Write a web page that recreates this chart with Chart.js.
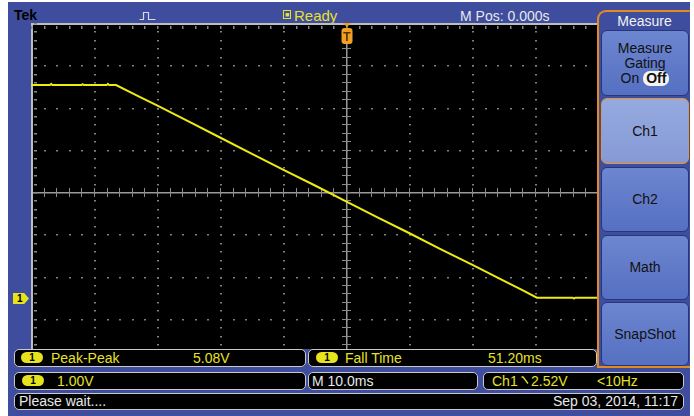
<!DOCTYPE html>
<html>
<head>
<meta charset="utf-8">
<script src="https://cdn.jsdelivr.net/npm/chart.js@4.4.1/dist/chart.umd.min.js"></script>
<style>
  html, body { margin: 0; padding: 0; background: #fff; }
  body { width: 694px; height: 416px; position: relative; overflow: hidden;
         font-family: "Liberation Sans", Arial, sans-serif; }
  .abs { position: absolute; }
  #frame { left: 8px; top: 2px; width: 682px; height: 414px; background: #3f4d9f; }
  #scope { left: 31px; top: 23px; width: 566px; height: 326px; overflow: hidden; background: #000; }
  #scope canvas { position: absolute; left: 0; top: 0; }
  .t { position: absolute; white-space: nowrap; font-size: 14px; line-height: 16px; }
  .yel { color: #e6e22a; }
  .wht { color: #e8e8e8; }
  .box { position: absolute; background: #000; border: 1px solid #c9c9c9; border-radius: 5px; box-sizing: border-box; }
  .pill { position: absolute; width: 22px; height: 11px; border-radius: 6px; background: #e6e21e;
          color: #000; font-weight: bold; font-size: 10px; line-height: 11px; text-align: center; }
  #panel { left: 597px; top: 10px; width: 93px; height: 358px; box-sizing: border-box;
           border-left: 2px solid #e58a1f; border-top: 2px solid #e58a1f; border-bottom: 2px solid #e58a1f;
           border-top-left-radius: 9px; background: #3f4d9f; }
  .btn { position: absolute; left: 601px; width: 88px; border-radius: 6px; box-sizing: border-box;
         background: linear-gradient(#6c86d0, #5670c2); border: 1px solid #26367a;
         color: #111; font-size: 14px; text-align: center; }
  .btn.sel { background: linear-gradient(#95aadf, #8699d6); border: 1px solid #e5952a; }
  .off { display: inline-block; background: #f4f4f4; color: #111; border-radius: 7px; padding: 0 3px; line-height: 15px; font-weight: bold; }
</style>
</head>
<body>
<div id="frame" class="abs"></div>

<!-- top status line -->
<div class="t" style="left:14px; top:7px; font-weight:bold; color:#000; font-size:14px;">Tek</div>
<svg class="abs" style="left:139px; top:11px;" width="17" height="10">
  <polyline points="0.5,8.5 4.5,8.5 4.5,1.5 9.5,1.5 9.5,8.5 16.5,8.5" fill="none" stroke="#d8d8e8" stroke-width="1.2"/>
</svg>
<div class="abs" style="left:283px; top:10px; width:8px; height:9px; border:1px solid #e6e22a; box-sizing:border-box; font-size:7px; line-height:7px; color:#e6e22a; text-align:center;">■</div>
<div class="t yel" style="left:294px; top:8px; font-size:15px;">Ready</div>
<div class="t wht" style="left:460px; top:8px;">M Pos: 0.000s</div>

<!-- graticule and trace -->
<div id="scope" class="abs"><canvas id="c" width="630" height="338" style="width:630px;height:338px;"></canvas></div>

<!-- trigger position marker -->
<svg class="abs" style="left:340px; top:22px;" width="14" height="24">
  <polygon points="3,1 11,1 7,5" fill="#f0a020"/>
  <rect x="1.5" y="6" width="11" height="16" rx="3" fill="#f0a020"/>
  <text x="7" y="18.5" font-family="Liberation Sans, Arial" font-weight="bold" font-size="12" text-anchor="middle" fill="#5a3000">T</text>
</svg>

<!-- channel 1 ground marker -->
<div class="abs" style="left:13px; top:293px; width:16px; height:11px; background:#e6e21e;
     clip-path: polygon(0 0, 70% 0, 100% 50%, 70% 100%, 0 100%); color:#000; font-size:10px; font-weight:bold; line-height:11px; text-indent:4px;">1</div>

<!-- side menu -->
<div id="panel" class="abs"></div>
<div class="t" style="left:599px; width:91px; text-align:center; top:13px; color:#f2f2f2;">Measure</div>
<div class="btn" style="top:30px; height:66px; line-height:15px; padding-top:10px;">Measure<br>Gating<br>On <span class="off">Off</span></div>
<div class="btn sel" style="top:98px; height:66px; line-height:64px;">Ch1</div>
<div class="btn" style="top:167px; height:65px; line-height:63px;">Ch2</div>
<div class="btn" style="top:235px; height:65px; line-height:63px;">Math</div>
<div class="btn" style="top:302px; height:64px; line-height:62px;">SnapShot</div>

<!-- readout row 1 -->
<div class="box" style="left:14px; top:349px; width:292px; height:18px;"></div>
<div class="box" style="left:308px; top:349px; width:289px; height:18px;"></div>
<div class="pill" style="left:21px; top:352px;">1</div>
<div class="t yel" style="left:51px; top:350px;">Peak-Peak</div>
<div class="t yel" style="left:193px; top:350px;">5.08V</div>
<div class="pill" style="left:316px; top:352px;">1</div>
<div class="t yel" style="left:345px; top:350px;">Fall Time</div>
<div class="t yel" style="left:488px; top:350px;">51.20ms</div>

<!-- readout row 2 -->
<div class="box" style="left:14px; top:372px; width:292px; height:18px;"></div>
<div class="box" style="left:308px; top:372px; width:170px; height:18px;"></div>
<div class="box" style="left:483px; top:372px; width:201px; height:18px;"></div>
<div class="pill" style="left:22px; top:375px;">1</div>
<div class="t yel" style="left:57px; top:373px;">1.00V</div>
<div class="t wht" style="left:312px; top:373px;">M 10.0ms</div>
<div class="t yel" style="left:492px; top:373px;">Ch1</div>
<svg class="abs" style="left:521px; top:376px;" width="8" height="9">
  <polyline points="0.5,1 2,1 7,7.5" fill="none" stroke="#e6e22a" stroke-width="1.3"/>
</svg>
<div class="t yel" style="left:531px; top:373px;">2.52V</div>
<div class="t yel" style="left:597px; top:373px;">&lt;10Hz</div>

<!-- status row -->
<div class="box" style="left:14px; top:393px; width:670px; height:17px;"></div>
<div class="t wht" style="left:19px; top:393px;">Please wait....</div>
<div class="t wht" style="left:553px; top:393px;">Sep 03, 2014, 11:17</div>

<script>
// Channel 1 acquisition: time in ms relative to trigger, amplitude in volts
const timeMs   = [-50, -47, -46.8, -46.6, -42, -41.8, -41.6, -38, -37.8, -37.6, -36.5, -33, -30, -25, -20, -15, -10, -5, 0, 5, 10, 15, 20, 25, 28, 30.3, 36, 36.2, 36.4, 44, 44.2, 44.4, 50];
const ch1Volts = [5.03, 5.03, 5.06, 5.03, 5.03, 5.05, 5.03, 5.03, 5.06, 5.03, 5.03, 4.77, 4.55, 4.17, 3.79, 3.41, 3.03, 2.66, 2.28, 1.90, 1.53, 1.15, 0.78, 0.40, 0.18, 0.00, 0.00, -0.02, 0.00, 0.00, 0.02, 0.00, 0.00];

// Horizontal: 10 ms/div, 10 divisions centred on the trigger
const msPerDiv = 10;
const timeRange = [-50, 50];
// Vertical: 1.00 V/div, 8 divisions, ground 2.5 div below centre
const voltsPerDiv = 1;
const voltRange = [-1.5, 6.5];

const graticule = {
  id: 'graticule',
  beforeDatasetsDraw(chart) {
    const { ctx, scales: { x, y } } = chart;
    const minor = 5;
    const xs = [], ys = [];
    for (let i = 0; i <= 10 * minor; i++) xs.push(timeRange[0] + i * msPerDiv / minor);
    for (let i = 0; i <= 8 * minor; i++) ys.push(voltRange[0] + i * voltsPerDiv / minor);
    const xMid = (timeRange[0] + timeRange[1]) / 2;
    const yMid = (voltRange[0] + voltRange[1]) / 2;
    const px = v => Math.round(x.getPixelForValue(v));
    const py = v => Math.round(y.getPixelForValue(v));
    ctx.save();
    ctx.fillStyle = '#808080';
    // dotted division lines
    for (let d = 1; d < 10; d++) {
      const t = timeRange[0] + d * msPerDiv;
      if (t === xMid) continue;
      ys.forEach(v => ctx.fillRect(px(t), py(v), 2, 1.5));
    }
    for (let d = 1; d < 8; d++) {
      const v = voltRange[0] + d * voltsPerDiv;
      if (v === yMid) continue;
      xs.forEach(t => ctx.fillRect(px(t), py(v), 2, 1.5));
    }
    // centre cross with minor ticks
    ctx.fillStyle = '#9a9a9a';
    ctx.fillRect(px(xMid), 0, 1.5, chart.height);
    ctx.fillRect(0, py(yMid), chart.width, 1.5);
    ctx.fillStyle = '#8a8a8a';
    ys.forEach(v => ctx.fillRect(px(xMid) - 4, py(v), 9, 1));
    xs.forEach(t => ctx.fillRect(px(t), py(yMid) - 4, 1, 9));
    // outer border with inward ticks
    ctx.fillStyle = '#bdbdbd';
    ctx.fillRect(0, 0, 2, chart.height);
    ctx.fillRect(0, 0, chart.width, 2);
    ctx.fillStyle = '#8a8a8a';
    ys.forEach(v => ctx.fillRect(3, py(v), 3, 1.5));
    xs.forEach(t => ctx.fillRect(px(t), 3, 1.5, 3));
    ctx.restore();
  }
};

new Chart(document.getElementById('c'), {
  type: 'line',
  data: {
    datasets: [{
      label: 'Ch1',
      data: timeMs.map((t, i) => ({ x: t, y: ch1Volts[i] })),
      borderColor: '#ecec12',
      borderWidth: 2,
      pointRadius: 0,
      tension: 0,
      fill: false
    }]
  },
  options: {
    responsive: false,
    animation: false,
    events: [],
    layout: { padding: 0 },
    plugins: { legend: { display: false }, tooltip: { enabled: false } },
    scales: {
      x: { type: 'linear', min: timeRange[0], max: timeRange[1], display: false },
      y: { type: 'linear', min: voltRange[0], max: voltRange[1], display: false }
    }
  },
  plugins: [graticule]
});
</script>
</body>
</html>
